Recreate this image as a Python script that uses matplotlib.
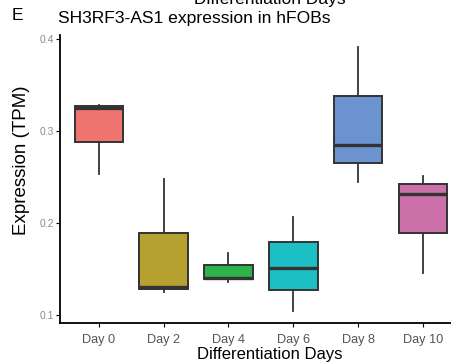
import matplotlib.pyplot as plt

plt.rcParams['font.family'] = ['Liberation Sans', 'DejaVu Sans']

days = ["Day 0", "Day 2", "Day 4", "Day 6", "Day 8", "Day 10"]
whislo = [0.253, 0.125, 0.136, 0.104, 0.244, 0.146]
q1 = [0.288, 0.128, 0.139, 0.127, 0.265, 0.189]
med = [0.3255, 0.130, 0.1405, 0.151, 0.285, 0.232]
q3 = [0.327, 0.1895, 0.154, 0.179, 0.338, 0.242]
whishi = [0.328, 0.2475, 0.167, 0.206, 0.391, 0.2515]
colors = ["#F07470", "#B5A030", "#2DB34A", "#1CBFC4", "#6B93CF", "#CC70AA"]

stats = []
for i in range(len(days)):
    stats.append({"label": days[i], "whislo": whislo[i], "q1": q1[i], "med": med[i],
                  "q3": q3[i], "whishi": whishi[i], "fliers": []})

fig = plt.figure(figsize=(4.52, 3.62), dpi=100)
ax = fig.add_axes([60/452, 1 - 323/362, 392/452, 288/362])

edge = "#333333"
bp = ax.bxp(stats, positions=range(1, 7), widths=0.75, patch_artist=True, showcaps=False,
            boxprops=dict(edgecolor=edge, linewidth=1.4),
            medianprops=dict(color=edge, linewidth=2.4),
            whiskerprops=dict(color=edge, linewidth=1.3))
for patch, c in zip(bp["boxes"], colors):
    patch.set_facecolor(c)

ax.set_xlim(0.4, 6.45)
ax.set_ylim(0.0913, 0.4043)
ax.set_yticks([0.1, 0.2, 0.3, 0.4])
ax.set_yticklabels(["0.1", "0.2", "0.3", "0.4"])
ax.tick_params(axis="y", labelsize=7.5, labelcolor="#8C8C8C", length=3, width=0.8, pad=1)
ax.tick_params(axis="x", labelsize=9.2, labelcolor="#555555", length=3, width=0.8, pad=5)
ax.spines["top"].set_visible(False)
ax.spines["right"].set_visible(False)
ax.spines["left"].set_linewidth(1.3)
ax.spines["bottom"].set_linewidth(1.3)

ax.set_xlabel("Differentiation Days", fontsize=12, va="baseline")
ax.xaxis.set_label_coords((270 - 60) / 392, (323 - 359.5) / 288)
ax.set_ylabel("Expression (TPM)", fontsize=13.5, va="center")
ax.yaxis.set_label_coords((22 - 60) / 392, (323 - 160) / 288)

fig.text(12/452, 1 - 16/362, "E", fontsize=12.5, va="center")
fig.text(58/452, 1 - 18/362, "SH3RF3-AS1 expression in hFOBs", fontsize=12.6, va="center")
fig.text(270/452, 1 - 4/362, "Differentiation Days", fontsize=12.5, ha="center", va="baseline")

fig.savefig("out.png", dpi=100)
